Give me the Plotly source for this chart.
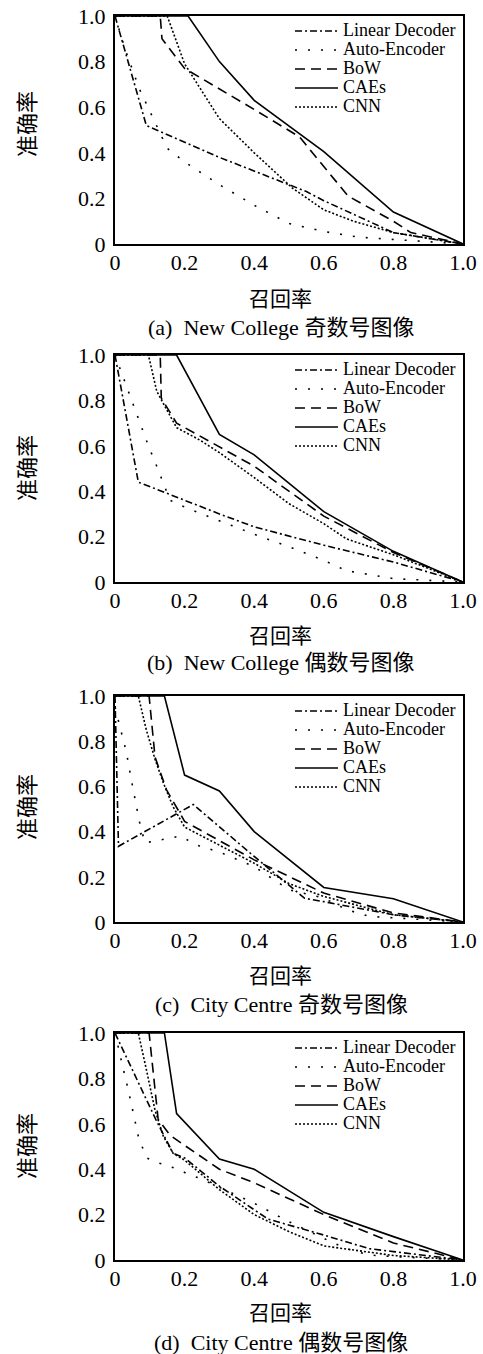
import plotly.graph_objects as go

W, H = 483, 1354

# ---------------- data (recall, precision) ----------------
SERIES = ["Linear Decoder", "Auto-Encoder", "BoW", "CAEs", "CNN"]

# (a) New College odd
A_LD_R = [0, 0.09, 0.30, 0.40, 0.55, 0.60, 0.80, 1.0]
A_LD_P = [1, 0.52, 0.38, 0.32, 0.23, 0.19, 0.05, 0]
A_AE_R = [0, 0.03, 0.07, 0.12, 0.15, 0.20, 0.30, 0.40, 0.50, 0.60, 0.70, 0.80, 1.0]
A_AE_P = [1, 0.85, 0.68, 0.52, 0.42, 0.36, 0.26, 0.17, 0.09, 0.055, 0.03, 0.02, 0]
A_BOW_R = [0, 0.13, 0.135, 0.20, 0.40, 0.53, 0.60, 0.67, 0.80, 0.85, 1.0]
A_BOW_P = [1, 1, 0.90, 0.77, 0.59, 0.47, 0.34, 0.21, 0.10, 0.05, 0]
A_CAE_R = [0, 0.21, 0.30, 0.40, 0.60, 0.80, 1.0]
A_CAE_P = [1, 1, 0.80, 0.63, 0.405, 0.14, 0]
A_CNN_R = [0, 0.15, 0.20, 0.30, 0.40, 0.51, 0.60, 0.685, 0.80, 1.0]
A_CNN_P = [1, 1, 0.79, 0.55, 0.40, 0.245, 0.15, 0.10, 0.05, 0]

# (b) New College even
B_LD_R = [0, 0.067, 0.30, 0.40, 0.60, 0.80, 1.0]
B_LD_P = [1, 0.44, 0.30, 0.243, 0.162, 0.088, 0]
B_AE_R = [0, 0.024, 0.048, 0.072, 0.096, 0.12, 0.134, 0.158, 0.20, 0.30, 0.40, 0.50, 0.60, 0.665, 0.80, 1.0]
B_AE_P = [1, 0.90, 0.80, 0.70, 0.60, 0.51, 0.455, 0.36, 0.33, 0.27, 0.21, 0.155, 0.095, 0.05, 0.015, 0]
B_BOW_R = [0, 0.13, 0.133, 0.177, 0.40, 0.60, 0.80, 1.0]
B_BOW_P = [1, 1, 0.81, 0.70, 0.51, 0.29, 0.13, 0]
B_CAE_R = [0, 0.177, 0.30, 0.40, 0.60, 0.80, 1.0]
B_CAE_P = [1, 1, 0.65, 0.56, 0.31, 0.135, 0]
B_CNN_R = [0, 0.096, 0.12, 0.177, 0.244, 0.30, 0.40, 0.50, 0.60, 0.665, 0.80, 1.0]
B_CNN_P = [1, 1, 0.84, 0.68, 0.625, 0.57, 0.46, 0.345, 0.257, 0.19, 0.12, 0]

# (c) City Centre odd
C_LD_R = [0, 0.01, 0.225, 0.40, 0.545, 0.60, 0.80, 1.0]
C_LD_P = [1, 0.335, 0.52, 0.29, 0.105, 0.09, 0.032, 0]
C_AE_R = [0, 0.01, 0.019, 0.033, 0.045, 0.057, 0.07, 0.086, 0.12, 0.148, 0.187, 0.244, 0.30, 0.40, 0.50, 0.60, 0.665, 0.73, 0.80, 1.0]
C_AE_P = [0.95, 0.89, 0.84, 0.75, 0.645, 0.54, 0.445, 0.35, 0.36, 0.37, 0.38, 0.335, 0.31, 0.245, 0.143, 0.106, 0.055, 0.025, 0.018, 0]
C_BOW_R = [0, 0.098, 0.115, 0.148, 0.20, 0.40, 0.60, 0.80, 1.0]
C_BOW_P = [1, 1, 0.73, 0.585, 0.445, 0.275, 0.128, 0.04, 0]
C_CAE_R = [0, 0.142, 0.20, 0.30, 0.40, 0.60, 0.80, 1.0]
C_CAE_P = [1, 1, 0.65, 0.58, 0.40, 0.153, 0.103, 0]
C_CNN_R = [0, 0.067, 0.09, 0.115, 0.139, 0.167, 0.20, 0.30, 0.40, 0.50, 0.60, 0.80, 1.0]
C_CNN_P = [1, 1, 0.85, 0.72, 0.615, 0.51, 0.42, 0.34, 0.26, 0.17, 0.113, 0.032, 0]

# (d) City Centre even
D_LD_R = [0, 0.12, 0.167, 0.20, 0.30, 0.40, 0.44, 0.60, 0.73, 0.80, 1.0]
D_LD_P = [1, 0.61, 0.47, 0.45, 0.325, 0.22, 0.18, 0.11, 0.05, 0.037, 0]
D_AE_R = [0, 0.01, 0.024, 0.038, 0.053, 0.067, 0.09, 0.12, 0.153, 0.187, 0.215, 0.244, 0.40, 0.445, 0.49, 0.60, 0.665, 0.73, 0.80, 1.0]
D_AE_P = [1, 0.93, 0.84, 0.75, 0.64, 0.545, 0.45, 0.43, 0.415, 0.395, 0.375, 0.36, 0.25, 0.213, 0.176, 0.095, 0.05, 0.022, 0.015, 0]
D_BOW_R = [0, 0.098, 0.124, 0.158, 0.20, 0.30, 0.40, 0.60, 0.80, 1.0]
D_BOW_P = [1, 1, 0.62, 0.55, 0.505, 0.40, 0.34, 0.20, 0.075, 0]
D_CAE_R = [0, 0.142, 0.177, 0.30, 0.40, 0.60, 0.80, 1.0]
D_CAE_P = [1, 1, 0.645, 0.445, 0.40, 0.21, 0.103, 0]
D_CNN_R = [0, 0.067, 0.09, 0.115, 0.139, 0.167, 0.20, 0.30, 0.40, 0.50, 0.60, 0.80, 1.0]
D_CNN_P = [1, 1, 0.84, 0.66, 0.545, 0.47, 0.44, 0.31, 0.20, 0.125, 0.062, 0.02, 0]

TICK_VALS = [0, 0.2, 0.4, 0.6, 0.8, 1.0]
TICK_TEXT = ["0", "0.2", "0.4", "0.6", "0.8", "1.0"]
X_TITLE = "召回率"
Y_TITLE = "准确率"
CAPTIONS = ["(a)  New College 奇数号图像", "(b)  New College 偶数号图像",
            "(c)  City Centre 奇数号图像", "(d)  City Centre 偶数号图像"]

PANELS = [
    [(A_LD_R, A_LD_P), (A_AE_R, A_AE_P), (A_BOW_R, A_BOW_P), (A_CAE_R, A_CAE_P), (A_CNN_R, A_CNN_P)],
    [(B_LD_R, B_LD_P), (B_AE_R, B_AE_P), (B_BOW_R, B_BOW_P), (B_CAE_R, B_CAE_P), (B_CNN_R, B_CNN_P)],
    [(C_LD_R, C_LD_P), (C_AE_R, C_AE_P), (C_BOW_R, C_BOW_P), (C_CAE_R, C_CAE_P), (C_CNN_R, C_CNN_P)],
    [(D_LD_R, D_LD_P), (D_AE_R, D_AE_P), (D_BOW_R, D_BOW_P), (D_CAE_R, D_CAE_P), (D_CNN_R, D_CNN_P)],
]

# ---------------- styling ----------------
DASHES = ["7px,3px,2px,3px", "2px,11px", "10px,6px", "solid", "2px,2px"]
SERIF = "Liberation Serif, Noto Sans CJK SC, serif"
CJK = "Noto Sans CJK SC, sans-serif"

# pixel layout
PLOT_LEFT, PLOT_RIGHT = 115, 463
PLOT_TB = [(16, 244), (355, 582), (696, 922), (1033, 1260)]
XTITLE_Y = [297, 634, 974, 1311]
CAPTION_Y = [327, 663, 1005, 1342]
YTITLE_Y = [124, 468, 807, 1146]

def py(px):
    return 1 - px / H

fig = go.Figure()
layout = dict(
    template="none",
    width=W, height=H, margin=dict(l=0, r=0, t=0, b=0, autoexpand=False),
    paper_bgcolor="white", plot_bgcolor="white", showlegend=True,
)
annotations = []
for i, panel in enumerate(PANELS):
    n = "" if i == 0 else str(i + 1)
    leg = "legend" + n
    for j, (r, p) in enumerate(panel):
        fig.add_trace(go.Scatter(
            x=r, y=p, mode="lines", name=f"<span style='font-size:18px'>{SERIES[j]}</span>",
            line=dict(color="black", width=1.6, dash=DASHES[j]),
            xaxis="x" + n, yaxis="y" + n, legend=leg,
        ))
    top, bot = PLOT_TB[i]
    axcommon = dict(
        range=[0, 1], tickvals=TICK_VALS, ticktext=TICK_TEXT,
        showgrid=False, zeroline=False, showline=True, mirror=True,
        linecolor="black", linewidth=2, ticks="", automargin=False,
        tickfont=dict(family=SERIF, size=22, color="black"),
    )
    layout["xaxis" + n] = dict(axcommon, domain=[PLOT_LEFT / W, PLOT_RIGHT / W],
                               anchor="y" + n, ticklabelstandoff=-2)
    layout["yaxis" + n] = dict(axcommon, domain=[py(bot), py(top)],
                               anchor="x" + n, ticklabelstandoff=3)
    layout[leg] = dict(
        x=290 / W, y=py(top + 0.5), xanchor="left", yanchor="top",
        bgcolor="rgba(0,0,0,0)", borderwidth=0,
        font=dict(family=SERIF, size=12, color="black"),
        itemwidth=43, tracegroupgap=0,
    )
    annotations.append(dict(text=X_TITLE, x=280 / W, y=py(XTITLE_Y[i]), xref="paper", yref="paper",
                            showarrow=False, font=dict(family=CJK, size=21, color="black"),
                            xanchor="center", yanchor="middle"))
    annotations.append(dict(text=CAPTIONS[i], x=281 / W, y=py(CAPTION_Y[i]), xref="paper", yref="paper",
                            showarrow=False, font=dict(family=SERIF, size=22, color="black"),
                            xanchor="center", yanchor="middle"))
    annotations.append(dict(text=Y_TITLE, x=25 / W, y=py(YTITLE_Y[i]), xref="paper", yref="paper",
                            showarrow=False, textangle=-90, font=dict(family=CJK, size=22, color="black"),
                            xanchor="center", yanchor="middle"))

layout["annotations"] = annotations
fig.update_layout(**layout)
fig.write_html("out.html", config={"displayModeBar": False},
               post_script="document.body.style.margin='0';")
